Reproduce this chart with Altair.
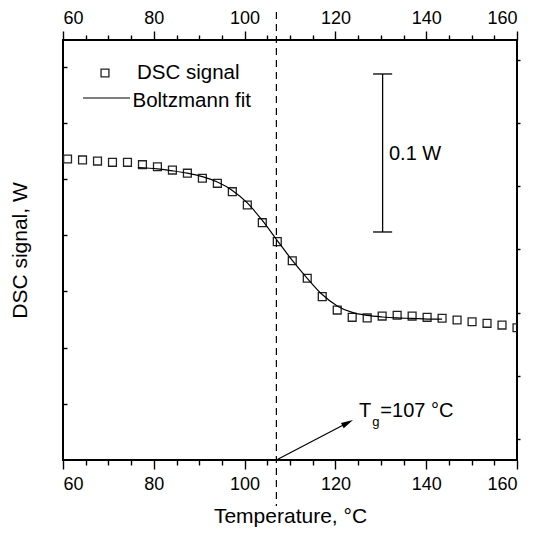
import altair as alt
import pandas as pd

FONT = "Liberation Sans"

# ---- data ----
temp = [61.0, 64.3, 67.6, 70.9, 74.2, 77.5, 80.8, 84.1, 87.4, 90.7, 94.0,
        97.3, 100.6, 103.9, 107.2, 110.5, 113.8, 117.1, 120.4, 123.7, 127.0,
        130.3, 133.6, 136.9, 140.2, 143.5, 146.8, 150.1, 153.4, 156.7, 160.0]
signal = [0.1905, 0.1899, 0.1892, 0.1884, 0.1884, 0.1869, 0.1856, 0.1835,
          0.1815, 0.1783, 0.1751, 0.1698, 0.1614, 0.1502, 0.1382, 0.1261,
          0.1150, 0.1034, 0.0949, 0.0903, 0.0899, 0.0911, 0.0916, 0.0911,
          0.0903, 0.0897, 0.0886, 0.0875, 0.0865, 0.0854, 0.0837]

fit_temp = [76.5, 80.8, 84.1, 87.4, 90.7, 94.0, 97.3, 100.6, 103.9, 107.2,
            110.5, 113.8, 117.1, 120.4, 123.7, 127.0, 130.3, 133.6, 136.9,
            140.2, 143.5]
fit_signal = [0.1851, 0.1842, 0.1830, 0.1815, 0.1793, 0.1759, 0.1706, 0.1627,
              0.1516, 0.1389, 0.1263, 0.1150, 0.1047, 0.0975, 0.0934, 0.0915,
              0.0905, 0.0899, 0.0896, 0.0892, 0.0891]

x_major = [60, 80, 100, 120, 140, 160]
x_minor = [65, 70, 75, 85, 90, 95, 105, 110, 115, 125, 130, 135, 145, 150, 155]
y_left_ticks = [0.0356, 0.0711, 0.1067, 0.1423, 0.1778, 0.2134, 0.2490]
y_right_ticks = [0.0133, 0.0533, 0.0933, 0.1333, 0.1733, 0.2133, 0.2533]

tg = [107]
# annotation anchors (data units)
arrow_from = [107, 0.0]
arrow_to = [122.7, 0.02354]
tg_text = [("T", 125.2, 0.0272, 20), ("g", 128.1, 0.0216, 13), ("=107 °C", 129.9, 0.0272, 20)]
legend_sq = [69.25, 0.2449]
legend_line = [64.4, 74.76, 0.2291]
legend_text = [("DSC signal", 76.3, 0.2409), ("Boltzmann fit", 75.3, 0.2234)]
bar_x = [130.4]
bar_y = [0.1443, 0.2443]
bar_cap = [128.3, 132.5]
bar_label = [("0.1 W", 131.8, 0.1899)]

# ---- scales ----
xs = alt.Scale(domain=[60, 160], nice=False, zero=False)
ys = alt.Scale(domain=[0, 0.2658], nice=False, zero=False)

df_pts = pd.DataFrame({"T": temp, "S": signal})
df_fit = pd.DataFrame({"T": fit_temp, "S": fit_signal})

points = alt.Chart(df_pts).mark_point(
    shape="square", filled=False, size=62, color="#222222", strokeWidth=1.3,
    opacity=1, clip=True
).encode(
    x=alt.X("T:Q", scale=xs, axis=alt.Axis(
        orient="bottom", values=x_major, tickSize=9, labelPadding=6,
        format="d", title="Temperature, °C", titlePadding=12, titleFontSize=21)),
    y=alt.Y("S:Q", scale=ys, axis=alt.Axis(
        orient="left", values=y_left_ticks, tickSize=4, offset=-4, labels=False,
        title="DSC signal, W", titlePadding=32, titleFontSize=21)),
)

fit = alt.Chart(df_fit).mark_line(
    color="black", strokeWidth=1.2, interpolate="monotone"
).encode(
    x=alt.X("T:Q", scale=xs, axis=alt.Axis(
        orient="bottom", values=x_minor, tickSize=5, labels=False, title=None)),
    y=alt.Y("S:Q", scale=ys, axis=alt.Axis(
        orient="right", values=y_right_ticks, tickSize=3, labels=False, title=None)),
)

dash = alt.Chart(pd.DataFrame({"T": tg})).mark_rule(
    color="black", strokeWidth=1.2, strokeDash=[7, 5]
).encode(
    x=alt.X("T:Q", scale=xs, axis=alt.Axis(
        orient="top", values=x_major, tickSize=9, labelPadding=4,
        format="d", title=None)),
    y=alt.value(-28), y2=alt.value(466),
)

arrow = alt.Chart(pd.DataFrame({"x": [arrow_from[0]], "y": [arrow_from[1]],
                                "x2": [arrow_to[0]], "y2": [arrow_to[1]]})).mark_rule(
    color="black", strokeWidth=1.2
).encode(
    x=alt.X("x:Q", scale=xs, axis=alt.Axis(
        orient="top", values=x_minor, tickSize=5, labels=False, title=None)),
    y=alt.Y("y:Q", scale=ys, axis=None),
    x2="x2:Q", y2="y2:Q",
)

head = alt.Chart(pd.DataFrame({"x": [arrow_to[0]], "y": [arrow_to[1]]})).mark_point(
    shape="M0,-1L0.5,1L-0.5,1Z", filled=True, color="black", size=144,
    angle=62.6, opacity=1
).encode(
    x=alt.X("x:Q", scale=xs, axis=None),
    y=alt.Y("y:Q", scale=ys, axis=None),
)

def texts(rows, size):
    df = pd.DataFrame({"label": [r[0] for r in rows], "x": [r[1] for r in rows],
                       "y": [r[2] for r in rows]})
    return alt.Chart(df).mark_text(
        align="left", baseline="alphabetic", fontSize=size, font=FONT, color="black"
    ).encode(
        x=alt.X("x:Q", scale=xs, axis=None),
        y=alt.Y("y:Q", scale=ys, axis=None),
        text="label:N",
    )

tg_big = texts([r[:3] for r in tg_text if r[3] == 20], 20)
tg_sub = texts([r[:3] for r in tg_text if r[3] == 13], 13)

leg_sq = alt.Chart(pd.DataFrame({"x": [legend_sq[0]], "y": [legend_sq[1]]})).mark_point(
    shape="square", filled=False, size=62, color="#222222", strokeWidth=1.3, opacity=1
).encode(
    x=alt.X("x:Q", scale=xs, axis=None),
    y=alt.Y("y:Q", scale=ys, axis=None),
)

leg_line = alt.Chart(pd.DataFrame({"x": [legend_line[0]], "x2": [legend_line[1]],
                                   "y": [legend_line[2]]})).mark_rule(
    color="black", strokeWidth=1.2
).encode(
    x=alt.X("x:Q", scale=xs, axis=None), x2="x2:Q",
    y=alt.Y("y:Q", scale=ys, axis=None),
)

leg_text = texts(legend_text, 20.5)

bar = alt.Chart(pd.DataFrame({"x": bar_x, "y": [bar_y[0]], "y2": [bar_y[1]]})).mark_rule(
    color="black", strokeWidth=1.3
).encode(
    x=alt.X("x:Q", scale=xs, axis=None),
    y=alt.Y("y:Q", scale=ys, axis=None), y2="y2:Q",
)

caps = alt.Chart(pd.DataFrame({"x": [bar_cap[0]] * 2, "x2": [bar_cap[1]] * 2,
                               "y": bar_y})).mark_rule(
    color="black", strokeWidth=1.3
).encode(
    x=alt.X("x:Q", scale=xs, axis=None), x2="x2:Q",
    y=alt.Y("y:Q", scale=ys, axis=None),
)

bar_text = texts(bar_label, 20)

chart = alt.layer(
    points, fit, dash, arrow, head, tg_big, tg_sub,
    leg_sq, leg_line, leg_text, bar, caps, bar_text
).resolve_scale(
    x="independent", y="independent"
).properties(
    width=454, height=420,
    autosize=alt.AutoSizeParams(type="none"),
    padding={"left": 55, "top": 32, "right": 15, "bottom": 72},
    background="white",
).configure_view(
    stroke="black", strokeWidth=2
).configure_axis(
    domain=False, grid=False, tickColor="black", tickWidth=1.4,
    labelFont=FONT, labelFontSize=18, labelColor="black",
    titleFont=FONT, titleFontSize=21, titleFontWeight="normal", titleColor="black",
)

chart.save("out.html", embed_options={"renderer": "svg", "actions": False})
